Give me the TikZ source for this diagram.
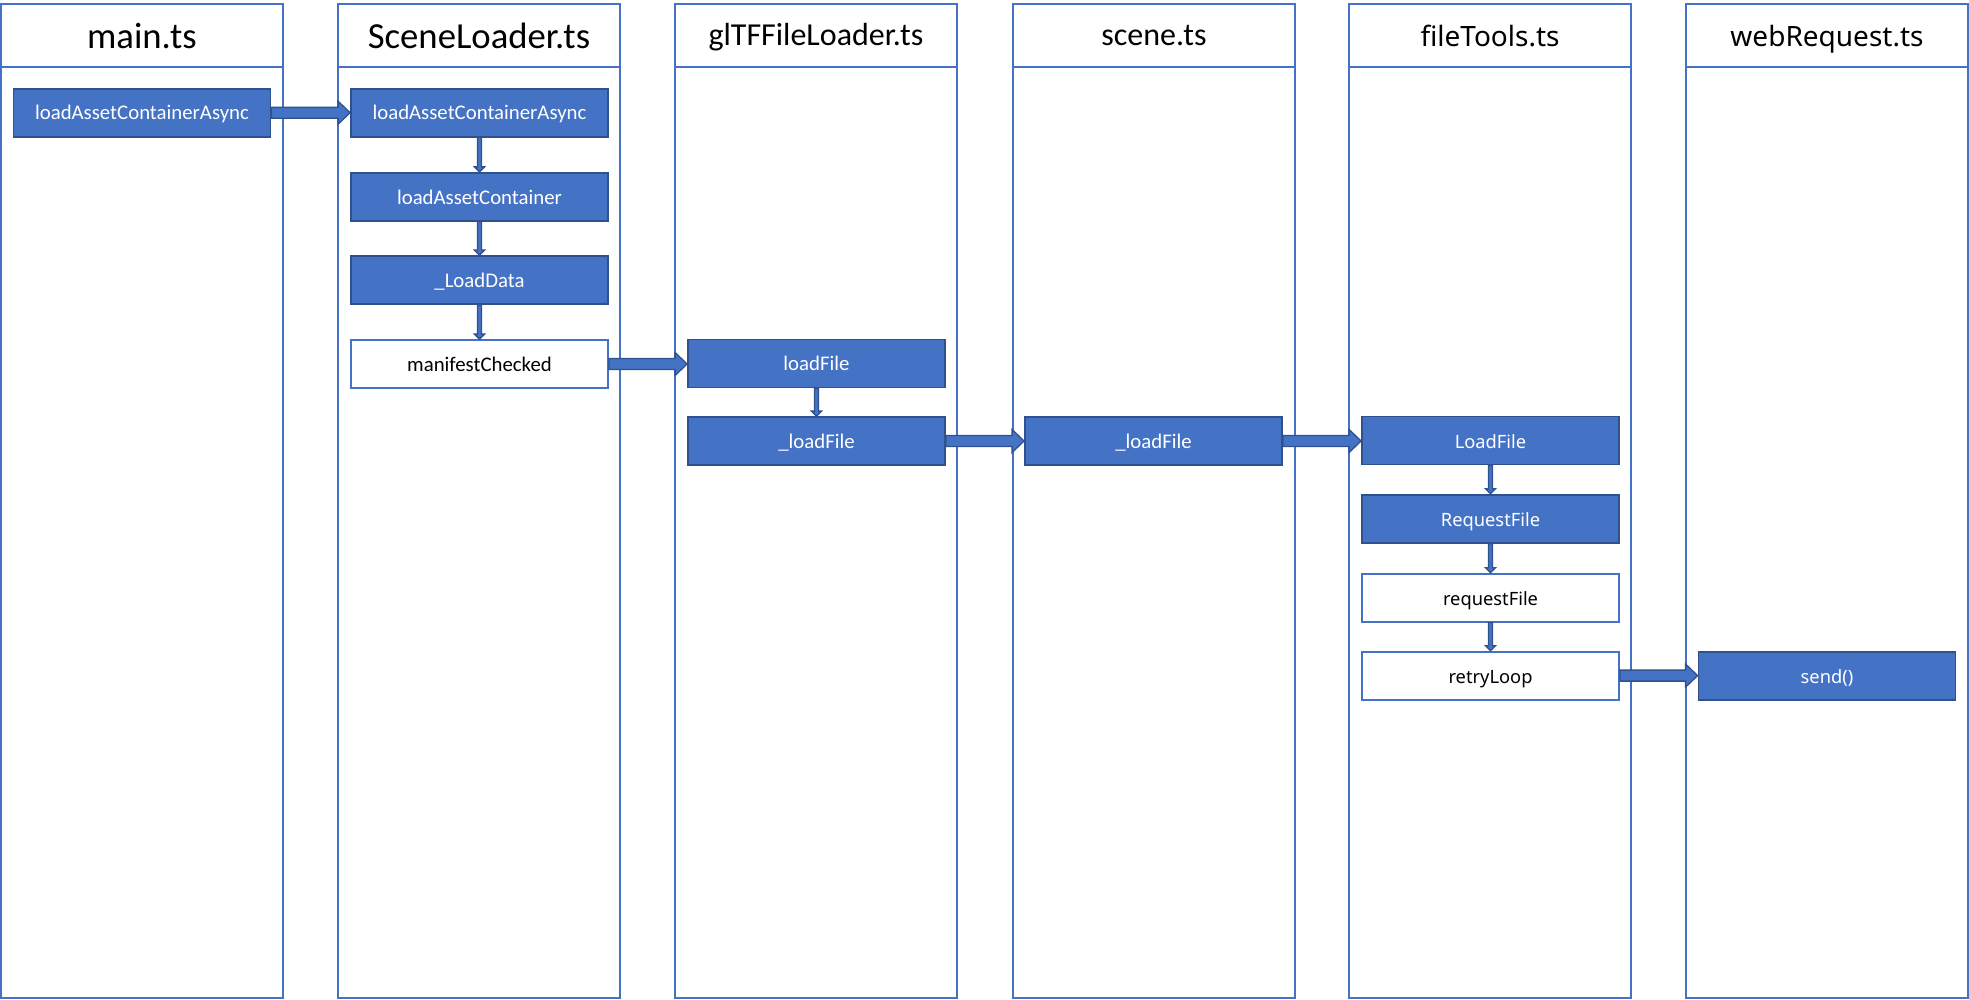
\documentclass[tikz,border=0pt]{standalone}
\usepackage{fontspec}
\setmainfont{Carlito}
\newfontfamily\segoe{Noto Sans}
\usetikzlibrary{calc}
\definecolor{lanec}{HTML}{4472C4}
\definecolor{boxfill}{HTML}{4472C4}
\definecolor{boxline}{HTML}{2F528F}
\tikzset{
  lane/.style={draw=lanec, line width=1.5pt},
  bigtitle/.style={font=\fontsize{36.7}{40}\selectfont, text=black, inner sep=0pt, text height=33.6pt, text depth=8pt},
  midtitle/.style={font=\fontsize{32}{36}\selectfont, text=black, inner sep=0pt, text height=29pt, text depth=8pt},
  segtitle/.style={font=\segoe\fontsize{28}{32}\selectfont, text=black, inner sep=0pt, text height=29.8pt, text depth=8pt},
  fnbox/.style={draw=boxline, fill=boxfill, line width=1.8pt, minimum width=257pt, minimum height=48pt, inner sep=0pt, text=white, font=\fontsize{20.8}{24}\selectfont, text height=18.6pt, text depth=4pt},
  fnwhite/.style={draw=lanec, fill=white, line width=1.8pt, minimum width=257pt, minimum height=48pt, inner sep=0pt, text=black, font=\fontsize{20.8}{24}\selectfont, text height=18.6pt, text depth=4pt},
  segfont/.style={font=\segoe\fontsize{18.3}{22}\selectfont, text height=20pt, text depth=4pt},
  blockarr/.style={draw=boxline, fill=boxfill, line width=1.3pt, line join=miter}
}
\newcommand\harrow[2]{\path[blockarr] let \p1=(#1.east), \p2=(#2.west) in
  ({\x1},{\y1+5.5pt}) -- ({\x2-12pt},{\y1+5.5pt}) -- ({\x2-12pt},{\y1+11.5pt}) -- ({\x2},{\y1})
  -- ({\x2-12pt},{\y1-11.5pt}) -- ({\x2-12pt},{\y1-5.5pt}) -- ({\x1},{\y1-5.5pt}) -- cycle;}
\newcommand\varrow[2]{\path[blockarr] let \p1=(#1.south), \p2=(#2.north) in
  ({\x1-2pt},{\y1}) -- ({\x1-2pt},{\y2+5pt}) -- ({\x1-5pt},{\y2+5pt}) -- ({\x1},{\y2})
  -- ({\x1+5pt},{\y2+5pt}) -- ({\x1+2pt},{\y2+5pt}) -- ({\x1+2pt},{\y1}) -- cycle;}
\begin{document}
\begin{tikzpicture}[x=1pt,y=-1pt]
\useasboundingbox (0,0) rectangle (1969,1000);
% lanes
\foreach \l in {1,338,675,1013,1349,1686}{
  \draw[lane] (\l,4) rectangle ({\l+282},998);
  \draw[lane] (\l,67) -- ({\l+282},67);
}
% titles
\node[bigtitle] (t1) at (142,35.5) {main.ts};
\node[bigtitle] (t2) at (479,35.5) {SceneLoader.ts};
\node[midtitle] (t3) at (816,35.5) {glTFFileLoader.ts};
\node[midtitle] (t4) at (1154,35.5) {scene.ts};
\node[segtitle] (t5) at (1490,35.5) {fileTools.ts};
\node[segtitle] (t6) at (1827,35.5) {webRequest.ts};
% boxes
\node[fnbox] (m1) at (142,112.7) {loadAssetContainerAsync};
\node[fnbox] (s1) at (479.5,112.7) {loadAssetContainerAsync};
\node[fnbox] (s2) at (479.5,196.8) {loadAssetContainer};
\node[fnbox] (s3) at (479.5,280) {\_LoadData};
\node[fnwhite] (s4) at (479.5,364) {manifestChecked};
\node[fnbox] (g1) at (816.5,363.5) {loadFile};
\node[fnbox] (g2) at (816.5,441) {\_loadFile};
\node[fnbox] (c1) at (1153.5,441) {\_loadFile};
\node[fnbox,segfont] (f1) at (1490.5,440.5) {LoadFile};
\node[fnbox,segfont] (f2) at (1490.5,518.7) {RequestFile};
\node[fnwhite,segfont] (f3) at (1490.5,597.6) {requestFile};
\node[fnwhite,segfont] (f4) at (1490.5,675.6) {retryLoop};
\node[fnbox,segfont] (w1) at (1827,675.6) {send()};
% connectors
\harrow{m1}{s1}
\varrow{s1}{s2}
\varrow{s2}{s3}
\varrow{s3}{s4}
\harrow{s4}{g1}
\varrow{g1}{g2}
\harrow{g2}{c1}
\harrow{c1}{f1}
\varrow{f1}{f2}
\varrow{f2}{f3}
\varrow{f3}{f4}
\harrow{f4}{w1}
\end{tikzpicture}
\end{document}
